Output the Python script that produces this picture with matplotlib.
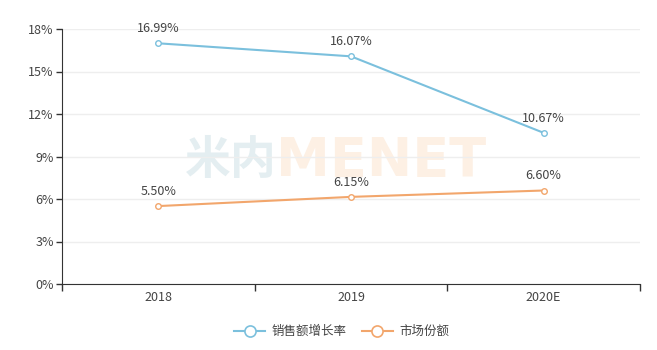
import matplotlib
matplotlib.use("Agg")
import matplotlib.pyplot as plt
from matplotlib.ticker import FixedLocator, FuncFormatter
from matplotlib.lines import Line2D

plt.rcParams['font.family'] = ['Noto Sans CJK SC', 'DejaVu Sans']

years = ["2018", "2019", "2020E"]
sales_growth = [16.99, 16.07, 10.67]
market_share = [5.50, 6.15, 6.60]
y_ticks = [0, 3, 6, 9, 12, 15, 18]

blue = '#7bc0dd'
orange = '#f2a66c'
text_c = '#444444'

fig = plt.figure(figsize=(6.57, 3.5), dpi=100)
ax = fig.add_axes([62/657, 1-284/350, (640-62)/657, (284-29)/350])

# faint watermark behind the plot
fig.text(185/657, 1-174/350, "米内", fontsize=33, fontweight='bold', color='#e4eef1',
         ha='left', va='baseline', zorder=-1)
fig.text(276/657, 1-176/350, "MENET", fontsize=39, fontweight='bold', color='#fdf0e4',
         family='DejaVu Sans', ha='left', va='baseline', zorder=-1)

x = list(range(len(years)))
ax.plot(x, sales_growth, color=blue, lw=1.5, marker='o', ms=4,
        mfc='white', mec=blue, mew=1, zorder=3)
ax.plot(x, market_share, color=orange, lw=1.5, marker='o', ms=4,
        mfc='white', mec=orange, mew=1, zorder=3)

for xi, v in zip(x, sales_growth):
    ax.annotate(f"{v:.2f}%", (xi, v), xytext=(0, 6), textcoords='offset points',
                ha='center', va='bottom', fontsize=9, color=text_c, zorder=4)
for xi, v in zip(x, market_share):
    ax.annotate(f"{v:.2f}%", (xi, v), xytext=(0, 6), textcoords='offset points',
                ha='center', va='bottom', fontsize=9, color=text_c, zorder=4)

ax.set_xlim(-0.5, len(years) - 0.5)
ax.set_ylim(0, 18)
ax.yaxis.set_major_locator(FixedLocator(y_ticks))
ax.yaxis.set_major_formatter(FuncFormatter(lambda v, p: f"{int(v)}%"))
ax.set_xticks(x)
ax.set_xticklabels(years)
ax.set_xticks([i - 0.5 for i in range(len(years) + 1)], minor=True)
ax.tick_params(axis='x', which='major', length=0, pad=5, labelsize=9, labelcolor=text_c)
ax.tick_params(axis='x', which='minor', length=5, width=1, color='#333333', direction='out')
ax.tick_params(axis='y', length=4, width=1, color='#333333', labelsize=9, labelcolor=text_c, pad=2)

ax.grid(axis='y', color='#eeeeee', lw=1)
ax.set_axisbelow(True)
for s in ['top', 'right']:
    ax.spines[s].set_visible(False)
ax.spines['left'].set_color('#333333')
ax.spines['bottom'].set_color('#333333')
ax.patch.set_alpha(0)

handles = [
    Line2D([], [], color=blue, lw=1.5, marker='o', ms=8, mfc='white', mec=blue, mew=1.2),
    Line2D([], [], color=orange, lw=1.5, marker='o', ms=8, mfc='white', mec=orange, mew=1.2),
]
fig.legend(handles, ["销售额增长率", "市场份额"], loc='center', bbox_to_anchor=(0.52, 0.052),
           ncol=2, frameon=False, fontsize=9, labelcolor=text_c, handlelength=2.5,
           columnspacing=1.2, handletextpad=0.5)

fig.savefig("out.png", dpi=100)
